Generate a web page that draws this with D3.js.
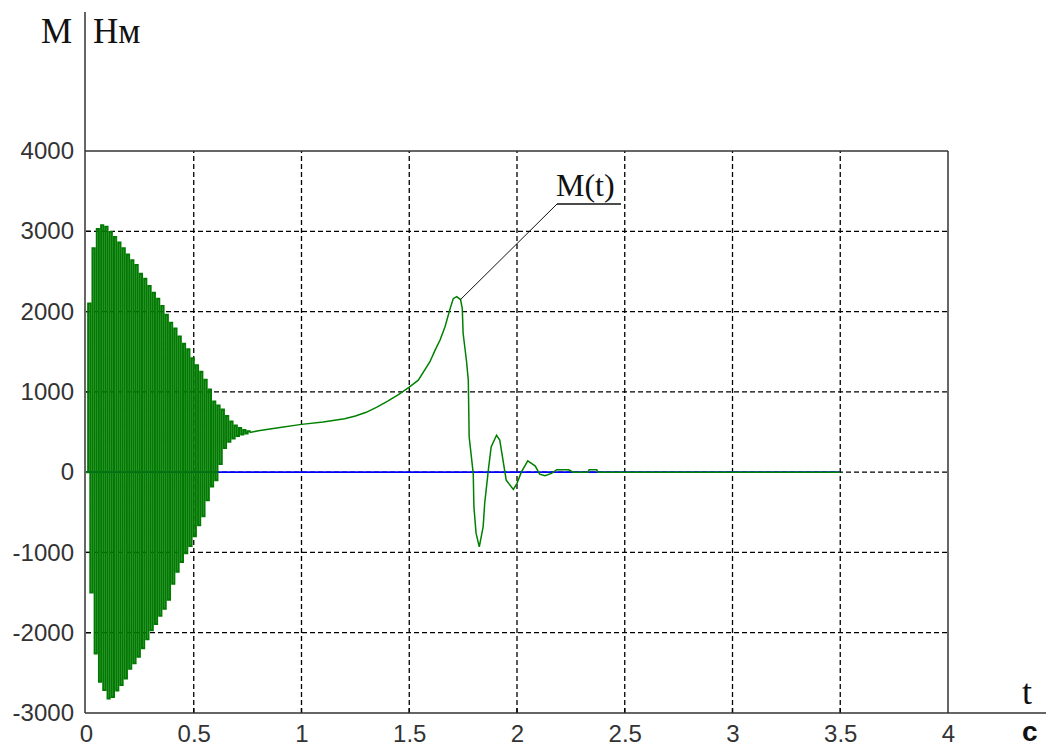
<!DOCTYPE html>
<html lang="ru">
<head>
    <meta charset="UTF-8">
    <title>M(t)</title>
    <script src="https://d3js.org/d3.v7.min.js"></script>
    <style>
        body { margin: 0; background: #ffffff; }
        .tick-label {
            font-family: "Liberation Sans", Arial, sans-serif;
            font-size: 24px;
            fill: #333333;
        }
        .grid line {
            stroke: #000000;
            stroke-width: 1.3px;
            stroke-dasharray: 5,3;
        }
        .frame {
            stroke: #333333;
            stroke-width: 1.5px;
            fill: none;
        }
        .serif {
            font-family: "Liberation Serif", "Times New Roman", serif;
            fill: #111111;
        }
    </style>
</head>
<body>
<div id="chart"></div>
<script>
    // tick values
    const xTicks = [0, 0.5, 1, 1.5, 2, 2.5, 3, 3.5, 4];
    const yTicks = [-3000, -2000, -1000, 0, 1000, 2000, 3000, 4000];

    // start-up oscillation: extrema (t in s, M in Nm)
    const oscTime = [0, 0.01, 0.02, 0.03, 0.04, 0.05, 0.06, 0.07, 0.08, 0.09,
        0.10, 0.11, 0.12, 0.13, 0.14, 0.15, 0.16, 0.17, 0.18, 0.19,
        0.20, 0.21, 0.22, 0.23, 0.24, 0.25, 0.26, 0.27, 0.28, 0.29,
        0.30, 0.31, 0.32, 0.33, 0.34, 0.35, 0.36, 0.37, 0.38, 0.39,
        0.40, 0.41, 0.42, 0.43, 0.44, 0.45, 0.46, 0.47, 0.48, 0.49,
        0.50, 0.51, 0.52, 0.53, 0.54, 0.55, 0.56, 0.57, 0.58, 0.59,
        0.60, 0.61, 0.62, 0.63, 0.64, 0.65, 0.66, 0.67, 0.68, 0.69,
        0.70, 0.71, 0.72, 0.73, 0.74, 0.75, 0.76];
    const oscValue = [0, 2100, -1500, 2790, -2260, 3030, -2610, 3075, -2715, 3055,
        -2820, 2990, -2800, 2930, -2720, 2860, -2650, 2790, -2570, 2710,
        -2450, 2640, -2380, 2580, -2300, 2470, -2195, 2410, -2080, 2320,
        -1970, 2235, -1890, 2160, -1790, 2070, -1700, 1960, -1590, 1860,
        -1390, 1790, -1240, 1690, -1120, 1600, -1010, 1530, -920, 1420,
        -800, 1330, -660, 1250, -550, 1150, -350, 1030, -180, 880,
        -100, 830, 100, 780, 300, 700, 380, 630, 420, 580,
        450, 550, 470, 525, 480, 510, 495];

    // smooth part and the second transient
    const curveTime = [0.76, 0.8, 0.9, 1.0, 1.1, 1.2, 1.25, 1.3, 1.35, 1.4, 1.45, 1.5, 1.542,
        1.596, 1.62, 1.643, 1.666, 1.69, 1.704, 1.72, 1.738, 1.746, 1.75,
        1.766, 1.774, 1.778, 1.797, 1.80, 1.81, 1.825, 1.843, 1.85, 1.867,
        1.88, 1.905, 1.92, 1.935, 1.95, 1.983, 2.0, 2.02, 2.05, 2.085,
        2.105, 2.13, 2.16, 2.185, 2.24, 2.26, 2.33, 2.335, 2.37, 2.375, 3.5];
    const curveValue = [495, 515, 555, 595, 625, 665, 700, 745, 810, 885, 965, 1060, 1145,
        1375, 1520, 1645, 1810, 2040, 2160, 2185, 2150, 2040, 1730,
        1375, 1145, 440, -20, -430, -760, -930, -680, -390, 25,
        315, 460, 400, 150, -100, -215, -140, 0, 140, 75,
        -25, -45, -15, 30, 30, 0, 0, 30, 30, 0, 0];

    // reference (zero) line
    const zeroTime = [0, 3.5];
    const zeroValue = [0, 0];

    const W = 1046, H = 749;
    const svg = d3.select("#chart").append("svg")
        .attr("width", W)
        .attr("height", H)
        .style("display", "block");

    const x = d3.scaleLinear().domain([0, 4]).range([86, 948]);
    const y = d3.scaleLinear().domain([-3000, 4000]).range([713, 151]);

    // dashed grid
    const grid = svg.append("g").attr("class", "grid");
    grid.selectAll(".gx")
        .data(xTicks.filter(d => d > 0 && d < 4))
        .enter().append("line")
        .attr("x1", d => x(d)).attr("x2", d => x(d))
        .attr("y1", y(-3000)).attr("y2", y(4000));
    grid.selectAll(".gy")
        .data(yTicks.filter(d => d > -3000 && d < 4000))
        .enter().append("line")
        .attr("x1", x(0)).attr("x2", x(4))
        .attr("y1", d => y(d)).attr("y2", d => y(d));

    // short inner ticks
    svg.append("g").selectAll("line")
        .data(xTicks.filter(d => d > 0 && d < 4))
        .enter().append("line")
        .attr("x1", d => x(d)).attr("x2", d => x(d))
        .attr("y1", y(-3000)).attr("y2", y(-3000) - 5)
        .attr("stroke", "#000").attr("stroke-width", 1.3);
    svg.append("g").selectAll("line")
        .data(yTicks.filter(d => d > -3000 && d < 4000))
        .enter().append("line")
        .attr("x1", x(0)).attr("x2", x(0) + 5)
        .attr("y1", d => y(d)).attr("y2", d => y(d))
        .attr("stroke", "#000").attr("stroke-width", 1.3);

    // frame and axes
    svg.append("line").attr("class", "frame")
        .attr("x1", x(0) - 1).attr("x2", x(0) - 1).attr("y1", 12).attr("y2", y(-3000));
    svg.append("line").attr("class", "frame")
        .attr("x1", x(0) - 1).attr("x2", W).attr("y1", y(-3000)).attr("y2", y(-3000));
    svg.append("line").attr("class", "frame")
        .attr("x1", x(0) - 1).attr("x2", x(4)).attr("y1", y(4000)).attr("y2", y(4000));
    svg.append("line").attr("class", "frame")
        .attr("x1", x(4)).attr("x2", x(4)).attr("y1", y(4000)).attr("y2", y(-3000));

    // tick labels through d3 axes
    const xAxis = svg.append("g")
        .attr("transform", "translate(0," + y(-3000) + ")")
        .call(d3.axisBottom(x).tickValues(xTicks).tickSize(0).tickPadding(12).tickFormat(d => String(d)));
    xAxis.select(".domain").remove();
    xAxis.selectAll("text").attr("class", "tick-label").attr("font-size", null).attr("font-family", null);

    const yAxis = svg.append("g")
        .attr("transform", "translate(" + (x(0) - 1) + ",0)")
        .call(d3.axisLeft(y).tickValues(yTicks).tickSize(0).tickPadding(11).tickFormat(d => String(d)));
    yAxis.select(".domain").remove();
    yAxis.selectAll("text").attr("class", "tick-label").attr("font-size", null).attr("font-family", null);

    // series
    const line = d3.line().x(d => x(d[0])).y(d => y(d[1]));
    const stepLine = d3.line().x(d => x(d[0])).y(d => y(d[1])).curve(d3.curveStepAfter);

    svg.append("path")
        .datum(d3.zip(zeroTime, zeroValue))
        .attr("d", line)
        .attr("fill", "none")
        .attr("stroke", "#0000ff")
        .attr("stroke-width", 1.6);

    // dense start-up part drawn as vertical strokes like the original plot
    svg.append("path")
        .datum(d3.zip(oscTime, oscValue))
        .attr("d", stepLine)
        .attr("fill", "none")
        .attr("stroke", "#007a00")
        .attr("stroke-width", 2);

    svg.append("path")
        .datum(d3.zip(curveTime, curveValue))
        .attr("d", line)
        .attr("fill", "none")
        .attr("stroke", "#008000")
        .attr("stroke-width", 1.5);

    // annotation M(t)
    const peakT = 1.738, peakM = 2150;
    const labelX = 557, labelY = 204;
    svg.append("line")
        .attr("x1", x(peakT)).attr("y1", y(peakM))
        .attr("x2", labelX).attr("y2", labelY)
        .attr("stroke", "#111").attr("stroke-width", 1);
    svg.append("line")
        .attr("x1", labelX).attr("y1", labelY)
        .attr("x2", labelX + 64).attr("y2", labelY)
        .attr("stroke", "#111").attr("stroke-width", 1.5);
    svg.append("text").attr("class", "serif")
        .attr("x", labelX - 1).attr("y", labelY - 8)
        .attr("font-size", 32)
        .text("M(t)");

    // axis titles
    svg.append("text").attr("class", "serif")
        .attr("x", 72).attr("y", 43)
        .attr("text-anchor", "end")
        .attr("font-size", 35)
        .text("M");
    svg.append("text").attr("class", "serif")
        .attr("x", 93).attr("y", 43)
        .attr("font-size", 35)
        .text("Нм");
    svg.append("text").attr("class", "serif")
        .attr("x", 1022).attr("y", 704)
        .attr("font-size", 36)
        .text("t");
    svg.append("text")
        .attr("x", 1022).attr("y", 741)
        .attr("font-family", "'Liberation Sans', Arial, sans-serif")
        .attr("font-weight", "bold")
        .attr("font-size", 28)
        .attr("fill", "#111")
        .text("с");
</script>
</body>
</html>
